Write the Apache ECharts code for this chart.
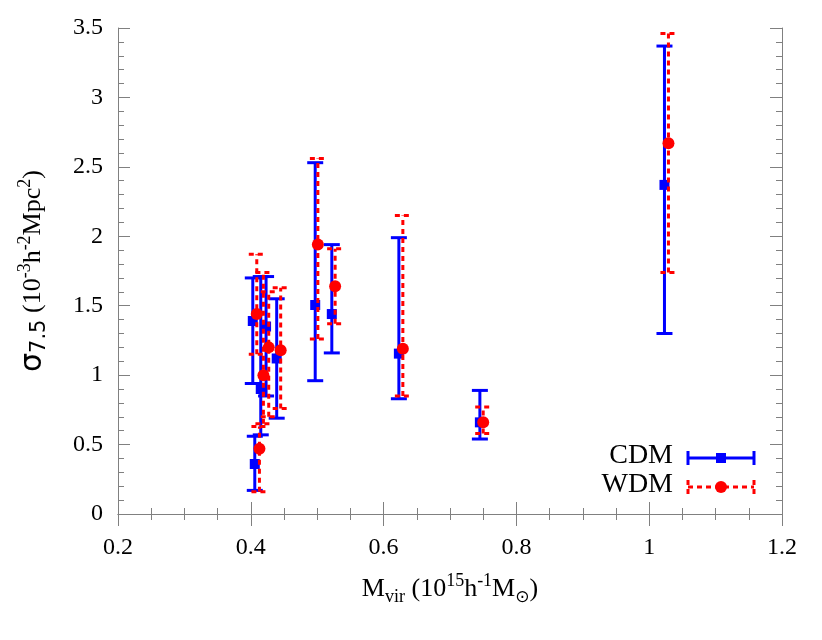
<!DOCTYPE html>
<html>
<head>
<meta charset="utf-8">
<script src="https://cdn.jsdelivr.net/npm/echarts@6/dist/echarts.min.js"></script>
<style>
html,body{margin:0;padding:0;background:#fff;}
#c{width:822px;height:640px;}
</style>
</head>
<body>
<div id="c"></div>
<script>
// CDM: virial mass, sigma_7.5, lower and upper error bounds
const cdmMass  = [0.403, 0.406, 0.415, 0.423, 0.439, 0.497, 0.522, 0.623, 0.745, 1.023];
const cdmSigma = [1.39, 0.36, 0.90, 1.35, 1.12, 1.505, 1.44, 1.155, 0.66, 2.37];
const cdmLow   = [0.94, 0.17, 0.57, 0.85, 0.69, 0.96, 1.16, 0.83, 0.54, 1.30];
const cdmHigh  = [1.70, 0.56, 1.71, 1.71, 1.55, 2.53, 1.94, 1.99, 0.89, 3.37];

// WDM
const wdmMass  = [0.409, 0.413, 0.419, 0.427, 0.445, 0.501, 0.527, 0.629, 0.750, 1.029];
const wdmSigma = [1.44, 0.47, 1.00, 1.20, 1.18, 1.94, 1.64, 1.19, 0.66, 2.67];
const wdmLow   = [1.15, 0.16, 0.65, 0.70, 0.76, 1.26, 1.37, 0.85, 0.58, 1.74];
const wdmHigh  = [1.87, 0.63, 1.74, 1.60, 1.63, 2.56, 1.91, 2.15, 0.77, 3.46];

const seriesNames = ['CDM', 'WDM'];

const FONT = '"Liberation Serif", "DejaVu Serif", serif';
const SANS = '"DejaVu Sans", "Liberation Sans", sans-serif';
const BLUE = '#0000ff';
const RED = '#ff0000';
const AXC = '#808080';

function rows(m, s, lo, hi) {
  return m.map((v, i) => [v, s[i], lo[i], hi[i]]);
}

function errRender(color, dash) {
  return function (params, api) {
    const x = api.value(0);
    const pLo = api.coord([x, api.value(2)]);
    const pHi = api.coord([x, api.value(3)]);
    const hw = 8;
    const style = { stroke: color, lineWidth: 3, lineDash: dash, fill: null };
    return {
      type: 'group',
      children: [
        { type: 'line', shape: { x1: pLo[0], y1: pLo[1], x2: pHi[0], y2: pHi[1] }, style: style },
        { type: 'line', shape: { x1: pLo[0] - hw, y1: pLo[1], x2: pLo[0] + hw, y2: pLo[1] }, style: style },
        { type: 'line', shape: { x1: pHi[0] - hw, y1: pHi[1], x2: pHi[0] + hw, y2: pHi[1] }, style: style }
      ]
    };
  };
}

const cdmRows = rows(cdmMass, cdmSigma, cdmLow, cdmHigh);
const wdmRows = rows(wdmMass, wdmSigma, wdmLow, wdmHigh);

const axisCommon = {
  axisLine: { show: true, lineStyle: { color: AXC, width: 1 } },
  axisTick: { show: true, inside: true, length: 12, lineStyle: { color: AXC } },
  splitLine: { show: false }
};

const LH = 34;
const richBase = {
  m: { fontSize: 26, fontFamily: FONT, color: '#000', lineHeight: LH, verticalAlign: 'middle' },
  sup: { fontSize: 18, fontFamily: FONT, color: '#000', verticalAlign: 'top', lineHeight: LH },
  sub: { fontSize: 18, fontFamily: FONT, color: '#000', verticalAlign: 'bottom', lineHeight: LH },
  sig: { fontSize: 30, fontFamily: SANS, color: '#000', verticalAlign: 'middle', lineHeight: LH },
  ssub: { fontSize: 21, fontFamily: SANS, color: '#000', verticalAlign: 'bottom', lineHeight: LH },
  odot: { fontSize: 17, fontFamily: SANS, color: '#000', verticalAlign: 'bottom', lineHeight: LH }
};

const option = {
  animation: false,
  backgroundColor: '#fff',
  grid: { left: 118, right: 40, top: 28, bottom: 126, containLabel: false },
  xAxis: [
    Object.assign({}, axisCommon, {
      type: 'value', min: 0.2, max: 1.2, interval: 0.2, position: 'bottom',
      minorTick: { show: true, splitNumber: 4, length: 6, lineStyle: { color: AXC } },
      axisLabel: { color: '#000', fontFamily: FONT, fontSize: 24, margin: 22,
        formatter: v => String(Math.round(v * 10) / 10) },
      name: '{m|M}{sub|vir}{m| (10}{sup|15}{m|h}{sup|-1}{m|M}{odot|⊙}{m|)}',
      nameLocation: 'middle', nameGap: 58,
      nameTextStyle: { rich: richBase }
    }),
    Object.assign({}, axisCommon, {
      type: 'value', min: 0.2, max: 1.2, interval: 0.2, position: 'top',
      minorTick: { show: true, splitNumber: 4, length: 6, lineStyle: { color: AXC } },
      axisLabel: { show: false }
    })
  ],
  yAxis: [
    Object.assign({}, axisCommon, {
      type: 'value', min: 0, max: 3.5, interval: 0.5, position: 'left',
      minorTick: { show: true, splitNumber: 5, length: 6, lineStyle: { color: AXC } },
      axisLabel: { color: '#000', fontFamily: FONT, fontSize: 24, margin: 15,
        formatter: v => String(Math.round(v * 10) / 10) },
      name: '{sig|σ}{ssub|7.5}{m| (10}{sup|-3}{m|h}{sup|-2}{m|Mpc}{sup|2}{m|)}',
      nameLocation: 'middle', nameGap: 68, nameRotate: 90,
      nameTextStyle: { rich: richBase }
    }),
    Object.assign({}, axisCommon, {
      type: 'value', min: 0, max: 3.5, interval: 0.5, position: 'right',
      minorTick: { show: true, splitNumber: 5, length: 6, lineStyle: { color: AXC } },
      axisLabel: { show: false }
    })
  ],
  series: [
    {
      name: seriesNames[0] + ' err', type: 'custom', data: cdmRows,
      encode: { x: 0, y: [1, 2, 3] }, renderItem: errRender(BLUE, null), z: 2
    },
    {
      name: seriesNames[0], type: 'scatter', data: cdmRows, encode: { x: 0, y: 1 },
      symbol: 'rect', symbolSize: 10, itemStyle: { color: BLUE, opacity: 1 }, z: 3
    },
    {
      name: seriesNames[1] + ' err', type: 'custom', data: wdmRows,
      encode: { x: 0, y: [1, 2, 3] }, renderItem: errRender(RED, [5, 4]), z: 4
    },
    {
      name: seriesNames[1], type: 'scatter', data: wdmRows, encode: { x: 0, y: 1 },
      symbol: 'circle', symbolSize: 12, itemStyle: { color: RED, opacity: 1 }, z: 5
    }
  ],
  graphic: [
    { type: 'text', right: 822 - 673, top: 442, style: { text: seriesNames[0], font: '28px ' + FONT, fill: '#000', textAlign: 'right' } },
    { type: 'text', right: 822 - 673, top: 471, style: { text: seriesNames[1], font: '28px ' + FONT, fill: '#000', textAlign: 'right' } },
    { type: 'line', shape: { x1: 688, y1: 458, x2: 754, y2: 458 }, style: { stroke: BLUE, lineWidth: 3 } },
    { type: 'line', shape: { x1: 688, y1: 451, x2: 688, y2: 465 }, style: { stroke: BLUE, lineWidth: 3 } },
    { type: 'line', shape: { x1: 754, y1: 451, x2: 754, y2: 465 }, style: { stroke: BLUE, lineWidth: 3 } },
    { type: 'rect', shape: { x: 716, y: 453, width: 10, height: 10 }, style: { fill: BLUE } },
    { type: 'line', shape: { x1: 688, y1: 487, x2: 754, y2: 487 }, style: { stroke: RED, lineWidth: 3, lineDash: [5, 4] } },
    { type: 'line', shape: { x1: 688, y1: 480, x2: 688, y2: 494 }, style: { stroke: RED, lineWidth: 3, lineDash: [5, 4] } },
    { type: 'line', shape: { x1: 754, y1: 480, x2: 754, y2: 494 }, style: { stroke: RED, lineWidth: 3, lineDash: [5, 4] } },
    { type: 'circle', shape: { cx: 721, cy: 487, r: 6 }, style: { fill: RED } }
  ]
};

const chart = echarts.init(document.getElementById('c'), null, { renderer: 'canvas' });
chart.setOption(option);
</script>
</body>
</html>
